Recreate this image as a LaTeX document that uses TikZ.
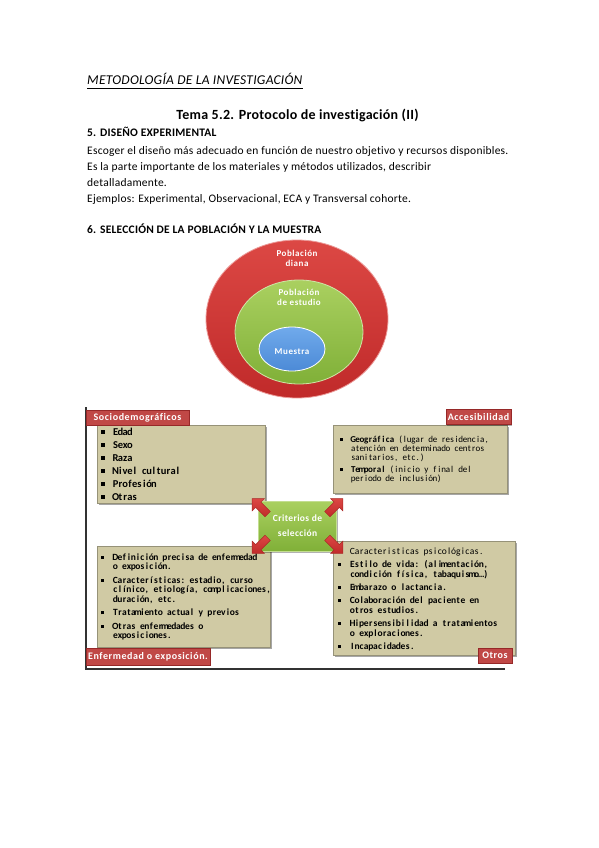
\documentclass[tikz,border=0pt]{standalone}
\usepackage{fontspec}
\setmainfont{Carlito}[Ligatures=NoCommon]
\usetikzlibrary{shapes.geometric,shapes.arrows,shadows,calc}
\definecolor{tanc}{RGB}{208,202,164}
\definecolor{tanline}{RGB}{150,146,120}
\definecolor{tagred}{RGB}{192,72,70}
\definecolor{tagline}{RGB}{150,40,40}
\definecolor{redA}{RGB}{220,72,68}
\definecolor{redB}{RGB}{192,42,42}
\definecolor{greenA}{RGB}{170,208,96}
\definecolor{greenB}{RGB}{128,176,56}
\definecolor{blueA}{RGB}{112,170,236}
\definecolor{blueB}{RGB}{76,138,214}
\definecolor{arrline}{RGB}{170,40,38}
\newcommand\sqb{\rule[0.12em]{0.33em}{0.33em}}
% fixed-advance text, as the reference renders it
\newdimen\monow
\newdimen\bulw
\makeatletter
\def\mono@stop{\mono@stop@}
\def\mono#1{\mono@w#1 \mono@end}
\def\mono@w#1 #2\mono@end{\mono@c#1\mono@stop\ifx\relax#2\relax\else\hbox to\monow{}\mono@w#2\mono@end\fi}
\def\mono@c#1{\ifx#1\mono@stop\else\hbox to\monow{\hss#1\hss}\expandafter\mono@c\fi}
\makeatother
\newcommand\bl[1]{\hbox{\hbox to\bulw{\sqb\hss}\mono{#1}}}
\newcommand\cl[1]{\hbox{\hbox to\bulw{}\mono{#1}}}
\newcommand\blraw[1]{\hbox{\hbox to\bulw{\sqb\hss}#1}}
\newcommand\clraw[1]{\hbox{\hbox to\bulw{}#1}}
\newcommand\msp{\hbox to\monow{}}
\begin{document}
\begin{tikzpicture}[x=1pt,y=-1pt,
  txt/.style={inner sep=0pt, font=\fontsize{11.5}{14}\selectfont\addfontfeature{LetterSpace=2}},
  tanbox/.style={draw=tanline, line width=0.6pt, fill=tanc, inner sep=0pt, anchor=north west,
     drop shadow={shadow xshift=2pt, shadow yshift=-2pt, opacity=0.35, fill=black}},
  tag/.style={draw=tagline, line width=0.5pt, fill=tagred, text=white, inner sep=0pt,
     font=\bfseries\fontsize{10}{12}\selectfont\addfontfeature{LetterSpace=6},
     drop shadow={shadow xshift=1pt, shadow yshift=-1pt, opacity=0.3, fill=black}},
  boxtxt/.style={inner sep=0pt, anchor=base west},
  circtxt/.style={inner sep=0pt, text=white, align=center,
     font=\bfseries\fontsize{9}{10}\selectfont\addfontfeature{LetterSpace=6}},
  blockarrow/.style={single arrow, draw=arrline, line width=0.4pt, inner sep=3.5pt,
     minimum height=22pt, single arrow head extend=5pt, top color=redA, bottom color=redB}
]
\useasboundingbox (0,0) rectangle (599,848);
\fill[white] (0,0) rectangle (599,848);

% header text
\node[txt, anchor=base west, font=\itshape\fontsize{13.5}{16}\selectfont\addfontfeature{LetterSpace=2}] (h1) at (87,85) {METODOLOGÍA DE LA INVESTIGACIÓN};
\draw[line width=0.6pt] (h1.base west) ++(0,3.5) coordinate (ul1) -- (h1.base east |- ul1) coordinate (ul2);
\node[txt, anchor=base, font=\bfseries\fontsize{14}{16}\selectfont\addfontfeature{LetterSpace=2}] (h2) at (297.5,120) {Tema 5.2. Protocolo de investigación (II)};
\node[txt, anchor=base west, font=\bfseries\fontsize{11.5}{14}\selectfont\addfontfeature{LetterSpace=2}] (s5) at (87,136) {5. DISEÑO EXPERIMENTAL};
\node[txt, anchor=base west] (p1) at (87,154) {Escoger el diseño más adecuado en función de nuestro objetivo y recursos disponibles.};
\node[txt, anchor=base west] (p2) at (87,170) {Es la parte importante de los materiales y métodos utilizados, describir};
\node[txt, anchor=base west] (p3) at (87,186) {detalladamente.};
\node[txt, anchor=base west] (p4) at (87,202) {Ejemplos: Experimental, Observacional, ECA y Transversal cohorte.};
\node[txt, anchor=base west, font=\bfseries\fontsize{11.5}{14}\selectfont\addfontfeature{LetterSpace=2}] (s6) at (87,233) {6. SELECCIÓN DE LA POBLACIÓN Y LA MUESTRA};

% nested ellipses
\node[ellipse, minimum width=182, minimum height=158, draw=redA!55!white, line width=0.8pt,
      top color=redA, bottom color=redB] (pd) at (297,319) {};
\node[ellipse, minimum width=128, minimum height=104, draw=greenA!55!white, line width=0.8pt,
      top color=greenA, bottom color=greenB] (pe) at (299,332) {};
\node[ellipse, minimum width=66, minimum height=44, draw=white, line width=0.8pt,
      top color=blueA, bottom color=blueB] (mu) at (292,349) {};
\node[circtxt] (pdt) at (297,258) {Población\\diana};
\node[circtxt] (pet) at (299,297) {Población\\de estudio};
\node[circtxt] (mut) at (292,352) {Muestra};

% frame lines
\coordinate (fa) at (86,407);
\coordinate (fb) at (86,669);
\coordinate (fc) at (505,669);
\draw[line width=1.2pt, black!80] (fa) -- (fb) -- (fc);

% boxes
\node[tanbox, minimum width=168, minimum height=78] (b1) at (97,425) {};
\node[tanbox, minimum width=174, minimum height=68] (b2) at (333,425) {};
\node[tanbox, minimum width=173, minimum height=101] (b3) at (97,546) {};
\node[tanbox, minimum width=182, minimum height=114] (b4) at (333,541) {};

% box texts
\node[boxtxt, font=\bfseries\fontsize{10.5}{13}\selectfont] (t1) at (101,435) {%
\monow=4.8pt\bulw=12pt
\vtop{\baselineskip=13pt\lineskiplimit=-50pt\lineskip=0pt
\bl{Edad}
\bl{Sexo}
\bl{Raza}
\bl{Nivel cultural}
\bl{Profesión}
\bl{Otras}}};

\node[boxtxt, font=\fontsize{9}{9}\selectfont] (t2) at (340,442) {%
\monow=4.3pt\bulw=11pt
\vtop{\baselineskip=9pt\lineskiplimit=-50pt\lineskip=0pt
\blraw{{\bfseries\mono{Geográfica}}\msp\mono{(lugar de residencia,}}
\cl{atención en determinado centros}
\cl{sanitarios, etc.)}
\vskip 3pt
\blraw{{\bfseries\mono{Temporal}}\msp\mono{(inicio y final del}}
\cl{periodo de inclusión)}}};

\node[boxtxt, font=\bfseries\fontsize{9.5}{9.5}\selectfont] (t3) at (101,560) {%
\monow=4.5pt\bulw=12pt
\vtop{\baselineskip=9.5pt\lineskiplimit=-50pt\lineskip=0pt
\bl{Definición precisa de enfermedad}
\cl{o exposición.}
\vskip 4pt
\bl{Características: estadio, curso}
\cl{clínico, etiología, complicaciones,}
\cl{duración, etc.}
\vskip 4pt
\bl{Tratamiento actual y previos}
\vskip 4pt
\bl{Otras enfermedades o}
\cl{exposiciones.}}};

\node[boxtxt, font=\bfseries\fontsize{9.5}{10}\selectfont] (t4) at (338,554) {%
\monow=4.6pt\bulw=12pt
\vtop{\baselineskip=10pt\lineskiplimit=-50pt\lineskip=0pt
\clraw{\mdseries\mono{Caracteristicas psicológicas.}}
\vskip 3pt
\bl{Estilo de vida: (alimentación,}
\cl{condición física, tabaquismo…)}
\vskip 3pt
\bl{Embarazo o lactancia.}
\vskip 3pt
\bl{Colaboración del paciente en}
\cl{otros estudios.}
\vskip 3pt
\bl{Hipersensibilidad a tratamientos}
\cl{o exploraciones.}
\vskip 3pt
\bl{Incapacidades.}}};

% tags
\node[tag, minimum width=103, minimum height=15] (g1) at (137.5,417.5) {Sociodemográficos};
\node[tag, minimum width=65, minimum height=15] (g2) at (478.5,417) {Accesibilidad};
\node[tag, minimum width=124, minimum height=17] (g3) at (148,656.5) {Enfermedad o exposición.};
\node[tag, minimum width=34, minimum height=15] (g4) at (495,655.5) {Otros};

% centre box
\node[draw=greenA!70!white, line width=0.6pt, top color=greenA, bottom color=greenB,
      minimum width=78, minimum height=50, inner sep=0pt, text=white, align=center,
      font=\bfseries\fontsize{9.5}{15}\selectfont\addfontfeature{LetterSpace=4},
      drop shadow={shadow xshift=1.5pt, shadow yshift=-1.5pt, opacity=0.3, fill=black}]
      (cs) at (297.5,526) {Criterios de\\selección};

% corner arrows
\node[blockarrow, rotate=135] (a1) at ($(cs.north west)+(3,7)$) {};
\node[blockarrow, rotate=45] (a2) at ($(cs.north east)+(-3,7)$) {};
\node[blockarrow, rotate=225] (a3) at ($(cs.south west)+(3,-7)$) {};
\node[blockarrow, rotate=-45] (a4) at ($(cs.south east)+(-3,-7)$) {};
\end{tikzpicture}
\end{document}
